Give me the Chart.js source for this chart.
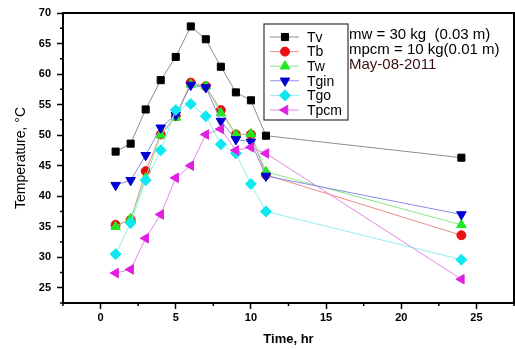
<!DOCTYPE html>
<html>
<head>
<meta charset="utf-8">
<script src="https://cdn.jsdelivr.net/npm/chart.js@4"></script>
<style>
  html, body { margin: 0; padding: 0; background: #fff; }
  #wrap { width: 515px; height: 350px; }
</style>
</head>
<body>
<div id="wrap"><canvas id="chart" width="515" height="350"></canvas></div>
<script>
// Datos (hora, temperatura °C)
const hours = [1, 2, 3, 4, 5, 6, 7, 8, 9, 10, 11, 24];
const tv   = [47.3, 48.6, 54.2, 59.0, 62.8, 67.8, 65.7, 61.2, 57.0, 55.7, 49.9, 46.3];
const tb   = [35.3, 36.1, 44.1, 50.1, 53.1, 58.6, 58.0, 54.1, 50.1, 50.1, 43.5, 33.6];
const tw   = [35.0, 36.3, 43.0, 50.0, 52.9, 58.3, 58.0, 53.6, 50.1, 50.2, 44.0, 35.3];
const tgin = [41.8, 42.6, 46.7, 51.2, 53.3, 58.2, 57.8, 52.3, 49.3, 48.9, 43.3, 37.0];
const tgo  = [30.5, 35.6, 42.6, 47.5, 54.1, 55.1, 53.1, 48.5, 47.0, 42.0, 37.5, 29.6];
const tpcm = [27.4, 28.0, 33.1, 37.0, 43.0, 45.0, 50.1, 51.0, 47.5, 48.0, 47.0, 26.4];

const seriesNames = ['Tv', 'Tb', 'Tw', 'Tgin', 'Tgo', 'Tpcm'];
const notes = ['mw = 30 kg  (0.03 m)', 'mpcm = 10 kg(0.01 m)', 'May-08-2011'];

const FONT = '"Liberation Sans", Arial, sans-serif';

function pts(values) {
    return values.map((v, i) => ({ x: hours[i], y: v }));
}

const isMajor = v => Math.abs(v / 5 - Math.round(v / 5)) < 1e-6;

// estilo de cada serie: línea clara + marcador
const styles = [
    { line: '#8c8c8c', fill: '#000000', shape: 'rect',     rot: 0,   r: 5 },
    { line: '#f08a8a', fill: '#e81010', shape: 'circle',   rot: 0,   r: 4.5 },
    { line: '#8ae88a', fill: '#1ee81e', shape: 'triangle', rot: 0,   r: 5.5 },
    { line: '#8c8ce6', fill: '#0000d0', shape: 'triangle', rot: 180, r: 5.5 },
    { line: '#8ef0f0', fill: '#10e8f0', shape: 'rectRot',  rot: 0,   r: 5.5 },
    { line: '#e08ae0', fill: '#e020e0', shape: 'triangle', rot: 270, r: 5.5 }
];
const allValues = [tv, tb, tw, tgin, tgo, tpcm];

const datasets = allValues.map((vals, i) => ({
    label: seriesNames[i],
    data: pts(vals),
    borderColor: styles[i].line,
    borderWidth: 1,
    pointStyle: styles[i].shape,
    rotation: styles[i].rot,
    pointRadius: styles[i].r,
    pointBackgroundColor: styles[i].fill,
    pointBorderColor: styles[i].fill,
    pointBorderWidth: 1,
    tension: 0,
    order: 6 - i
}));

// marco, ticks menores, leyenda y notas
const extras = {
    id: 'extras',
    afterDraw(chart) {
        const ctx = chart.ctx;
        const a = chart.chartArea;
        const xs = chart.scales.x, ys = chart.scales.y;
        ctx.save();
        ctx.strokeStyle = '#000';
        ctx.lineWidth = 1.5;
        ctx.beginPath();
        xs.ticks.forEach(t => {
            if (isMajor(t.value)) return;
            const px = xs.getPixelForValue(t.value);
            ctx.moveTo(px, a.bottom);
            ctx.lineTo(px, a.bottom + 3);
        });
        ys.ticks.forEach(t => {
            if (isMajor(t.value)) return;
            const py = ys.getPixelForValue(t.value);
            ctx.moveTo(a.left, py);
            ctx.lineTo(a.left - 3, py);
        });
        ctx.stroke();

        ctx.lineWidth = 2;
        ctx.strokeRect(a.left, a.top, a.right - a.left, a.bottom - a.top);

        // leyenda
        const bx = 264, by = 24, bw = 84, bh = 96;
        ctx.lineWidth = 1.2;
        ctx.strokeStyle = '#333';
        ctx.fillStyle = '#fff';
        ctx.fillRect(bx, by, bw, bh);
        ctx.strokeRect(bx, by, bw, bh);
        ctx.font = '14px ' + FONT;
        ctx.textBaseline = 'middle';
        ctx.textAlign = 'left';
        seriesNames.forEach((name, i) => {
            const y = 37 + i * 14.6;
            const s = styles[i];
            ctx.strokeStyle = s.line;
            ctx.lineWidth = 1;
            ctx.beginPath();
            ctx.moveTo(270, y);
            ctx.lineTo(299, y);
            ctx.stroke();
            ctx.fillStyle = s.fill;
            ctx.strokeStyle = s.fill;
            Chart.helpers.drawPoint(ctx, { pointStyle: s.shape, rotation: s.rot, radius: s.r, borderWidth: 1 }, 285, y);
            ctx.fillStyle = '#000';
            ctx.fillText(name, 307, y + 1);
        });

        // notas
        ctx.font = '15px ' + FONT;
        notes.forEach((txt, i) => {
            ctx.fillStyle = i === 2 ? '#3a1010' : '#000';
            ctx.fillText(txt, 349, 35 + i * 15);
        });
        ctx.restore();
    }
};

new Chart(document.getElementById('chart'), {
    type: 'line',
    data: { datasets: datasets },
    options: {
        responsive: false,
        animation: false,
        layout: {
            autoPadding: false,
            padding: { top: 13, right: 1, left: 0, bottom: 0 }
        },
        plugins: {
            legend: { display: false },
            tooltip: { enabled: false }
        },
        scales: {
            x: {
                type: 'linear',
                min: -2.5,
                max: 27.5,
                border: { display: false },
                grid: {
                    drawOnChartArea: false,
                    drawTicks: true,
                    tickLength: 6,
                    tickWidth: 1.5,
                    tickColor: c => isMajor(c.tick.value) ? '#000' : 'rgba(0,0,0,0)'
                },
                ticks: {
                    stepSize: 2.5,
                    autoSkip: false,
                    maxRotation: 0,
                    padding: 2,
                    color: '#000',
                    font: { family: FONT, size: 11, weight: 'bold' },
                    callback: v => isMajor(v) ? String(Math.round(v)) : ''
                },
                title: {
                    display: true,
                    text: 'Time, hr',
                    color: '#000',
                    font: { family: FONT, size: 13, weight: 'bold' },
                    padding: { top: 0, bottom: 3 }
                },
                afterFit: s => {
                    s.height = 47;
                    s.paddingLeft = 0;
                    s.paddingRight = 0;
                }
            },
            y: {
                min: 22.5,
                max: 70,
                border: { display: false },
                grid: {
                    drawOnChartArea: false,
                    drawTicks: true,
                    tickLength: 6,
                    tickWidth: 1.5,
                    tickColor: c => isMajor(c.tick.value) ? '#000' : 'rgba(0,0,0,0)'
                },
                ticks: {
                    stepSize: 2.5,
                    autoSkip: false,
                    padding: 6,
                    color: '#000',
                    font: { family: FONT, size: 11, weight: 'bold' },
                    callback: v => isMajor(v) ? String(Math.round(v)) : ''
                },
                title: {
                    display: true,
                    text: 'Temperature, °C',
                    color: '#000',
                    font: { family: FONT, size: 14 },
                    padding: { top: 13, bottom: 0 }
                },
                afterFit: s => {
                    s.width = 63;
                    s.paddingTop = 0;
                    s.paddingBottom = 0;
                }
            }
        }
    },
    plugins: [extras]
});
</script>
</body>
</html>
